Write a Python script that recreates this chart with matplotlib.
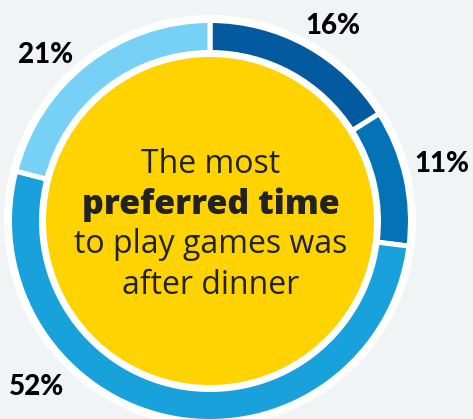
import matplotlib.pyplot as plt
from matplotlib.patches import Circle

# share of respondents by preferred time, clockwise from 12 o'clock
shares = [16, 11, 52, 21]
labels = ["16%", "11%", "52%", "21%"]
colors = ["#045a9f", "#0473b6", "#18a1db", "#77d1f7"]

BG = "#f1f4f5"
YELLOW = "#ffd300"
TEXT = "#222222"

W, H = 473, 419
fig = plt.figure(figsize=(W / 100, H / 100), dpi=100, facecolor=BG)
ax = fig.add_axes([0, 0, 1, 1])
ax.set_facecolor(BG)

cx, cy = 210, H - 221

# white halo behind the ring
ax.add_patch(Circle((cx, cy), 206, facecolor="white", edgecolor="none", zorder=1))

gap = 5  # px between segments
ax.pie(shares, colors=colors, startangle=90, counterclock=False,
       center=(cx, cy), radius=198 + gap / 2,
       wedgeprops=dict(width=27 + gap, edgecolor="white",
                       linewidth=gap * 72 / 100, zorder=2))

ax.add_patch(Circle((cx, cy), 164, facecolor=YELLOW, edgecolor="none", zorder=3))

# percentage labels around the ring
label_pos = {"16%": (333, 26), "11%": (442, 164), "52%": (37, 387), "21%": (46, 55)}
for lab in labels:
    x, y = label_pos[lab]
    ax.text(x, H - y, lab, ha="center", va="center", fontsize=20,
            fontweight="black", family="Lato", color="black", zorder=4)

# centre message
lines = [("The most", "normal", 23, 173),
         ("preferred time", 800, 24.5, 214),
         ("to play games was", "normal", 23, 253),
         ("after dinner", "normal", 23, 294)]
for txt, weight, size, base in lines:
    ax.text(211, H - base, txt, ha="center", va="baseline", fontsize=size,
            fontweight=weight, family="Open Sans", color=TEXT, zorder=4)

ax.set_xlim(0, W)
ax.set_ylim(0, H)
ax.set_aspect("equal")
ax.axis("off")

fig.savefig("out.png", dpi=100, facecolor=BG)
